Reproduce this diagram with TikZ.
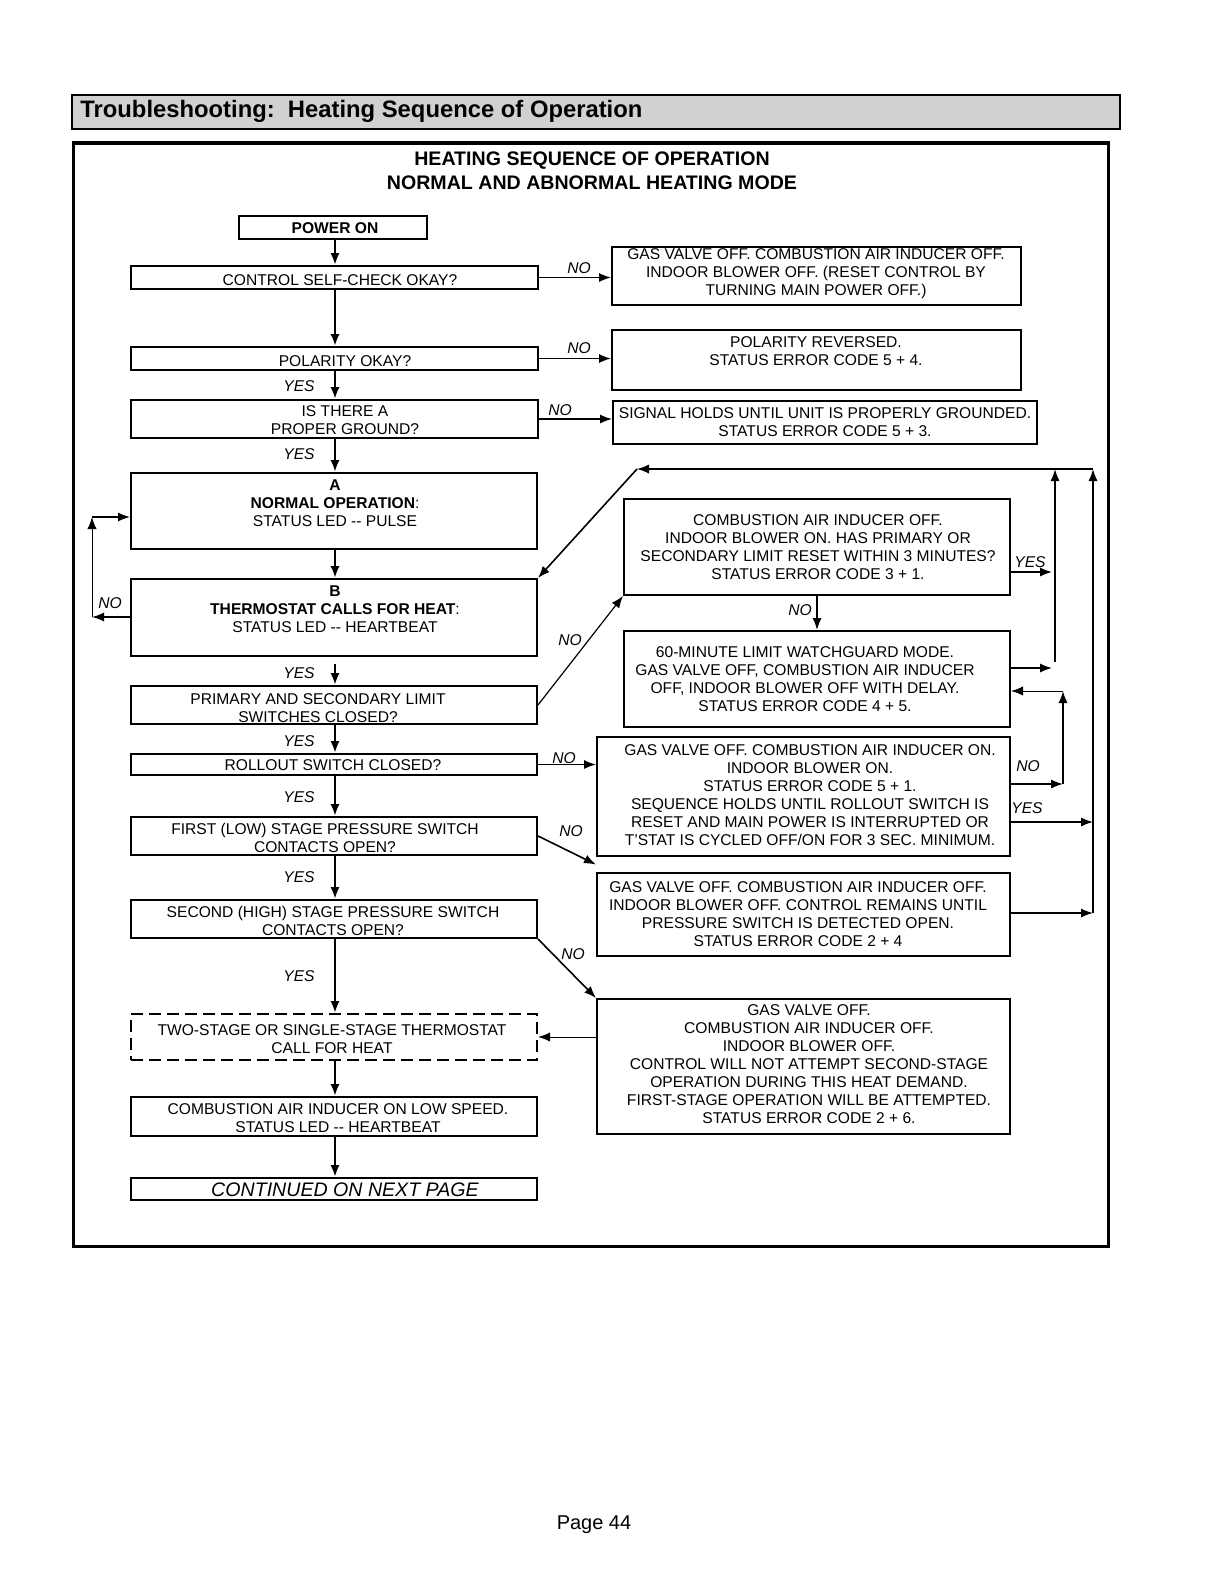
\documentclass[tikz,border=0pt]{standalone}
\usepackage{fontspec}
\setmainfont{Liberation Sans}
\usetikzlibrary{arrows.meta,fit,calc}
\newcommand\fs{\fontsize{7.8}{9}\selectfont}
\begin{document}
\begin{tikzpicture}[x=0.5pt,y=-0.5pt,
  box/.style={draw,line width=1pt,inner sep=0pt},
  dbox/.style={draw,line width=1pt,inner sep=0pt,dash pattern=on 6pt off 3pt},
  txt/.style={align=center,font=\fs,inner sep=0pt},
  lbl/.style={font=\fs\itshape,inner sep=0pt},
  arr/.style={line width=0.8pt,-{Latex[length=6pt,width=4.6pt]}},
  flow/.style={line width=1.2pt,-{Latex[length=6pt,width=4.6pt]}},
  thinarr/.style={line width=0.5pt,-{Latex[length=6pt,width=4.6pt]}}]
\useasboundingbox (0,0) rectangle (1224,1584);

% title bar and frame
\node[draw,line width=1pt,fill=black!18,inner sep=0pt,fit={(72,95) (1120,129)}] (bar) {};
\node[anchor=west,inner sep=0pt,font=\fontsize{11.9}{13}\selectfont\bfseries] (bartxt) at (80,111) {Troubleshooting:\ \ Heating Sequence of Operation};
\node[draw,line width=1.5pt,inner sep=0pt,fit={(73,143) (1108,1246)}] (frame) {};
\node[txt,font=\fontsize{9.8}{12}\selectfont\bfseries] (title) at (592,171) {HEATING SEQUENCE OF OPERATION\\NORMAL AND ABNORMAL HEATING MODE};
\node[inner sep=0pt,font=\fontsize{10}{12}\selectfont] (page) at (594,1525) {Page 44};

% left column boxes
\node[box,fit={(239,216) (427,239)}] (power) {};
\node[txt,font=\fs\bfseries] (power-t) at (335,228) {POWER ON};
\node[box,fit={(131,266) (538,289)}] (ctrl) {};
\node[txt] (ctrl-t) at (340,280) {CONTROL SELF-CHECK OKAY?};
\node[box,fit={(131,347) (538,370)}] (pol) {};
\node[txt] (pol-t) at (345,361) {POLARITY OKAY?};
\node[box,fit={(131,400) (538,438)}] (gnd) {};
\node[txt] (gnd-t) at (345,420) {IS THERE A\\PROPER GROUND?};
\node[box,fit={(131,473) (537,549)}] (A) {};
\node[txt] (A-t) at (335,503) {\textbf{A}\\\textbf{NORMAL OPERATION}:\\STATUS LED -{}- PULSE};
\node[box,fit={(131,579) (537,656)}] (B) {};
\node[txt] (B-t) at (335,609) {\textbf{B}\\\textbf{THERMOSTAT CALLS FOR HEAT}:\\STATUS LED -{}- HEARTBEAT};
\node[box,fit={(131,686) (537,724)}] (lim) {};
\node[txt] (lim-t) at (318,708) {PRIMARY AND SECONDARY LIMIT\\SWITCHES CLOSED?};
\node[box,fit={(131,754) (537,775)}] (roll) {};
\node[txt] (roll-t) at (333,765) {ROLLOUT SWITCH CLOSED?};
\node[box,fit={(131,817) (537,855)}] (first) {};
\node[txt] (first-t) at (325,838) {FIRST (LOW) STAGE PRESSURE SWITCH\\CONTACTS OPEN?};
\node[box,fit={(131,900) (537,938)}] (second) {};
\node[txt] (second-t) at (333,921) {SECOND (HIGH) STAGE PRESSURE SWITCH\\CONTACTS OPEN?};
\node[dbox,fit={(131,1014) (537,1060)}] (two) {};
\node[txt] (two-t) at (332,1039) {TWO-STAGE OR SINGLE-STAGE THERMOSTAT\\CALL FOR HEAT};
\node[box,fit={(131,1097) (537,1136)}] (low) {};
\node[txt] (low-t) at (338,1118) {COMBUSTION AIR INDUCER ON LOW SPEED.\\STATUS LED -{}- HEARTBEAT};
\node[box,fit={(131,1178) (537,1200)}] (cont) {};
\node[txt,font=\fontsize{9.8}{12}\selectfont\itshape] (cont-t) at (345,1190) {CONTINUED ON NEXT PAGE};

% right column boxes
\node[box,fit={(612,247) (1021,305)}] (r1) {};
\node[txt] (r1-t) at (816,274) {GAS VALVE OFF. COMBUSTION AIR INDUCER OFF.\\INDOOR BLOWER OFF. (RESET CONTROL BY\\TURNING MAIN POWER OFF.)};
\node[box,fit={(612,330) (1021,390)}] (r2) {};
\node[txt] (r2-t) at (816,351) {POLARITY REVERSED.\\STATUS ERROR CODE 5 + 4.};
\node[box,fit={(613,401) (1037,444)}] (r3) {};
\node[txt] (r3-t) at (825,422) {SIGNAL HOLDS UNTIL UNIT IS PROPERLY GROUNDED.\\STATUS ERROR CODE 5 + 3.};
\node[box,fit={(624,499) (1010,595)}] (r4) {};
\node[txt] (r4-t) at (818,547) {COMBUSTION AIR INDUCER OFF.\\INDOOR BLOWER ON. HAS PRIMARY OR\\SECONDARY LIMIT RESET WITHIN 3 MINUTES?\\STATUS ERROR CODE 3 + 1.};
\node[box,fit={(624,631) (1010,727)}] (r5) {};
\node[txt] (r5-t) at (805,679) {60-MINUTE LIMIT WATCHGUARD MODE.\\GAS VALVE OFF, COMBUSTION AIR INDUCER\\OFF, INDOOR BLOWER OFF WITH DELAY.\\STATUS ERROR CODE 4 + 5.};
\node[box,fit={(597,737) (1010,856)}] (r6) {};
\node[txt] (r6-t) at (810,795) {GAS VALVE OFF. COMBUSTION AIR INDUCER ON.\\INDOOR BLOWER ON.\\STATUS ERROR CODE 5 + 1.\\SEQUENCE HOLDS UNTIL ROLLOUT SWITCH IS\\RESET AND MAIN POWER IS INTERRUPTED OR\\T'STAT IS CYCLED OFF/ON FOR 3 SEC. MINIMUM.};
\node[box,fit={(597,873) (1010,956)}] (r7) {};
\node[txt] (r7-t) at (798,914) {GAS VALVE OFF. COMBUSTION AIR INDUCER OFF.\\INDOOR BLOWER OFF. CONTROL REMAINS UNTIL\\PRESSURE SWITCH IS DETECTED OPEN.\\STATUS ERROR CODE 2 + 4};
\node[box,fit={(597,999) (1010,1134)}] (r8) {};
\node[txt] (r8-t) at (809,1064) {GAS VALVE OFF.\\COMBUSTION AIR INDUCER OFF.\\INDOOR BLOWER OFF.\\CONTROL WILL NOT ATTEMPT SECOND-STAGE\\OPERATION DURING THIS HEAT DEMAND.\\FIRST-STAGE OPERATION WILL BE ATTEMPTED.\\STATUS ERROR CODE 2 + 6.};

% helper coordinates
\coordinate (spine) at (335,0);
\coordinate (lp1) at (92,617);
\coordinate (lp2) at (92,517);
\coordinate (tl) at (637,469);
\coordinate (tr1) at (1055,469);
\coordinate (tr2) at (1093,469);
\coordinate (y4) at (0,572);
\coordinate (y5) at (0,668);
\coordinate (y5b) at (0,662);
\coordinate (c63a) at (1063,784);
\coordinate (c63b) at (1063,691);
\coordinate (y6) at (0,822);
\coordinate (y7) at (0,913);

% main spine
\draw[flow] (spine |- power.south) -- (spine |- ctrl.north);
\draw[flow] (spine |- ctrl.south) -- (spine |- pol.north);
\draw[flow] (spine |- pol.south) -- (spine |- gnd.north);
\draw[flow] (spine |- gnd.south) -- (spine |- A.north);
\draw[flow] (spine |- A.south) -- (spine |- B.north);
\draw[flow] ($(spine |- B.south)+(0,7)$) -- (spine |- lim.north);
\draw[flow] (spine |- lim.south) -- (spine |- roll.north);
\draw[flow] (spine |- roll.south) -- (spine |- first.north);
\draw[flow] (spine |- first.south) -- (spine |- second.north);
\draw[flow] (spine |- second.south) -- (spine |- two.north);
\draw[flow] (spine |- two.south) -- (spine |- low.north);
\draw[flow] (spine |- low.south) -- (spine |- cont.north);

% branches
\draw[arr] (ctrl.east) -- (ctrl.east -| r1.west);
\draw[arr] (pol.east) -- (pol.east -| r2.west);
\draw[arr] (gnd.east) -- (gnd.east -| r3.west);
\draw[arr] (B.west |- lp1) -- (lp1);
\draw[thinarr] (lp1) -- (lp2);
\draw[arr] (lp2) -- (lp2 -| A.west);
\draw[arr,line width=0.6pt] (lim.east) -- (r4.south west);
\draw[arr,line width=0.6pt] (tr2) -- (tl);
\draw[arr] (tl) -- (B.north east);
\draw[arr] (r4.south) -- (r5.north);
\draw[arr] (r4.east |- y4) -- ($(tr1 |- y4)+(-3,0)$);
\draw[arr] (r5.east |- y5) -- ($(tr1 |- y5)+(-3,0)$);
\draw[arr] (tr1 |- y5b) -- (tr1);
\draw[arr] (r6.east |- c63a) -- (c63a);
\draw[arr] (c63a) -- (c63b);
\draw[thinarr] (c63b) -- (c63b -| r5.east);
\draw[arr] (r6.east |- y6) -- (tr2 |- y6);
\draw[arr] (r7.east |- y7) -- (tr2 |- y7);
\draw[arr] (tr2 |- y7) -- (tr2);
\draw[arr] (roll.east) -- (roll.east -| r6.west);
\draw[arr] (first.east) -- ($(r6.south west)!0.5!(r7.north west)$);
\draw[arr] (second.south east) -- (r8.north west);
\draw[thinarr] (r8.west |- two.east) -- (two.east);

% labels
\node[lbl] (l1) at (579,268) {NO};
\node[lbl] (l2) at (579,348) {NO};
\node[lbl] (l3) at (560,410) {NO};
\node[lbl] (l4) at (299,386) {YES};
\node[lbl] (l5) at (299,454) {YES};
\node[lbl] (l6) at (110,603) {NO};
\node[lbl] (l7) at (299,673) {YES};
\node[lbl] (l8) at (570,640) {NO};
\node[lbl] (l9) at (299,741) {YES};
\node[lbl] (l10) at (299,797) {YES};
\node[lbl] (l11) at (564,758) {NO};
\node[lbl] (l12) at (571,831) {NO};
\node[lbl] (l13) at (299,877) {YES};
\node[lbl] (l14) at (299,976) {YES};
\node[lbl] (l15) at (573,954) {NO};
\node[lbl] (l16) at (1030,562) {YES};
\node[lbl] (l17) at (800,610) {NO};
\node[lbl] (l18) at (1028,766) {NO};
\node[lbl] (l19) at (1027,808) {YES};
\end{tikzpicture}
\end{document}
